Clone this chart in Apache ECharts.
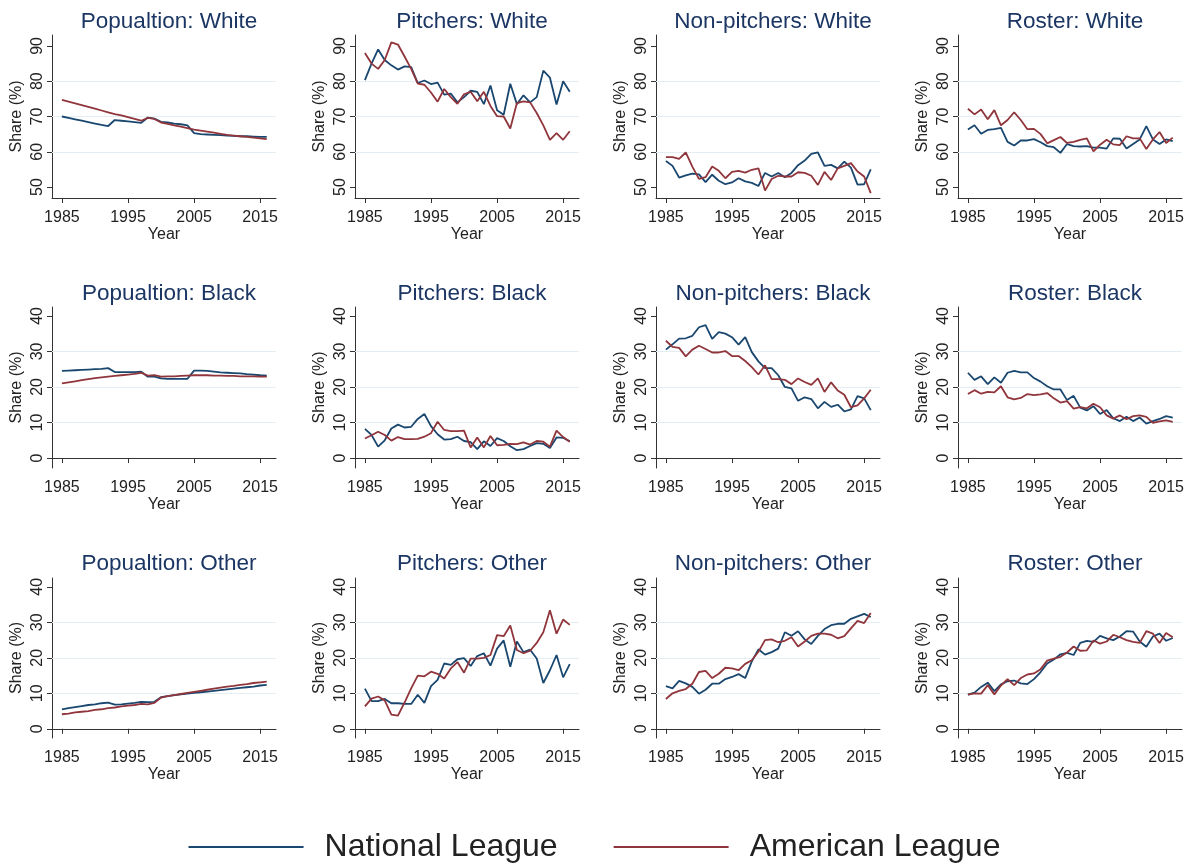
<!DOCTYPE html>
<html>
<head>
<meta charset="utf-8">
<script src="https://cdn.jsdelivr.net/npm/echarts@6/dist/echarts.min.js"></script>
<style>
  html, body { margin: 0; padding: 0; background: #fff; }
  #chart { width: 1189px; height: 864px; }
</style>
</head>
<body>
<div id="chart"></div>
<script>
// years 1985..2016
const years = [1985,1986,1987,1988,1989,1990,1991,1992,1993,1994,1995,1996,1997,1998,1999,2000,
               2001,2002,2003,2004,2005,2006,2007,2008,2009,2010,2011,2012,2013,2014,2015,2016];
const xTicks = [1985, 1995, 2005, 2015];
const whiteTicks = [50, 60, 70, 80, 90];
const otherTicks = [0, 10, 20, 30, 40];
const whiteGrid = [60, 70, 80];
const otherGrid = [10, 20, 30];

// White
const popWhiteNL = [70.0,69.6,69.2,68.8,68.4,68.0,67.6,67.3,69.0,68.8,68.6,68.4,68.2,69.7,69.4,68.5,68.3,68.0,67.8,67.5,65.3,65.0,64.9,64.8,64.7,64.6,64.5,64.4,64.4,64.3,64.2,64.2];
const popWhiteAL = [74.7,74.2,73.7,73.2,72.7,72.2,71.7,71.2,70.7,70.3,69.8,69.3,68.8,69.6,69.3,68.3,67.9,67.5,67.1,66.7,66.3,66.0,65.7,65.4,65.1,64.8,64.6,64.4,64.2,64.0,63.8,63.6];
const pitWhiteNL = [80.3,85.0,89.0,86.0,84.5,83.3,84.2,84.0,79.5,80.2,79.2,79.6,76.2,76.5,74.0,75.5,77.3,77.0,73.5,78.8,71.8,70.5,79.3,73.5,76.0,74.0,75.5,83.0,81.0,73.4,80.0,77.0];
const pitWhiteAL = [88.0,85.0,83.5,86.0,91.0,90.4,87.0,83.5,79.3,79.0,76.8,74.2,77.8,75.5,73.6,76.3,77.0,74.3,77.0,73.0,70.1,70.0,66.6,73.8,74.3,74.0,71.0,67.5,63.4,65.3,63.4,65.8];
const nonWhiteNL = [57.4,56.0,52.7,53.3,53.8,53.6,51.4,53.5,51.8,50.8,51.3,52.5,51.6,51.2,50.3,54.0,53.0,54.0,52.8,54.0,56.2,57.5,59.4,59.8,56.0,56.3,55.3,57.2,55.5,50.7,50.8,55.0];
const nonWhiteAL = [58.5,58.5,58.0,59.8,55.8,52.3,52.8,55.8,54.6,52.5,54.3,54.6,54.1,54.9,55.3,49.0,52.3,53.2,53.0,53.0,54.2,54.0,53.2,50.6,54.3,52.0,55.3,56.0,56.8,54.4,53.0,48.3];
const rosWhiteNL = [66.3,67.5,65.1,66.2,66.4,66.8,62.8,61.8,63.2,63.2,63.6,62.7,61.6,61.3,59.7,62.2,61.6,61.5,61.6,61.2,61.2,60.9,63.8,63.7,60.9,62.2,63.5,67.3,63.5,62.2,63.5,63.0];
const rosWhiteAL = [72.2,70.6,72.0,69.2,71.8,67.5,69.0,71.2,69.0,66.4,66.5,65.0,62.4,63.3,64.2,62.5,62.8,63.4,63.8,60.1,62.0,63.4,62.1,61.9,64.4,63.8,63.8,60.8,63.5,65.6,62.5,64.0];

// Black
const popBlackNL = [24.5,24.6,24.7,24.8,24.9,25.0,25.1,25.3,24.2,24.2,24.2,24.2,24.3,22.9,22.9,22.4,22.3,22.3,22.3,22.3,24.6,24.6,24.5,24.3,24.1,24.0,23.9,23.8,23.6,23.5,23.3,23.2];
const popBlackAL = [21.0,21.3,21.6,21.9,22.2,22.5,22.7,22.9,23.1,23.3,23.5,23.7,24.0,23.2,23.3,22.9,23.0,23.0,23.1,23.2,23.3,23.3,23.3,23.2,23.2,23.1,23.1,23.0,23.0,23.0,22.9,22.9];
const pitBlackNL = [8.2,6.5,3.2,5.0,8.3,9.4,8.6,8.8,11.0,12.4,9.0,6.7,5.2,5.3,6.0,4.8,4.5,2.5,4.7,3.4,5.6,4.8,3.3,2.2,2.5,3.4,4.2,4.0,2.8,5.8,5.7,4.7];
const pitBlackAL = [5.5,6.4,7.4,6.5,4.9,5.9,5.3,5.3,5.4,6.0,7.0,10.2,7.9,7.6,7.6,7.7,3.0,5.8,3.0,6.2,3.6,3.7,4.0,3.9,4.4,3.8,4.8,4.6,3.2,7.7,5.9,4.6];
const nonBlackNL = [30.5,32.0,33.6,33.7,34.4,36.8,37.4,33.5,35.4,35.0,34.0,31.9,34.0,29.8,27.2,25.3,25.3,23.3,20.0,19.6,16.1,17.1,16.6,14.0,15.8,14.4,15.0,13.1,13.7,17.4,16.8,13.5];
const nonBlackAL = [33.0,31.3,31.0,28.6,30.5,31.6,30.7,29.7,29.7,30.1,28.7,28.7,27.3,25.6,23.5,26.1,22.2,22.2,22.0,20.8,22.4,21.4,20.6,22.4,18.6,21.3,19.0,17.8,14.3,14.8,16.8,19.2];
const rosBlackNL = [24.0,22.0,23.0,20.8,22.7,21.2,24.0,24.5,24.1,24.1,22.5,21.5,20.2,19.3,19.3,16.3,17.5,14.2,13.4,14.6,12.4,13.5,11.2,10.4,11.6,10.4,11.4,9.7,10.4,11.0,11.8,11.4];
const rosBlackAL = [18.0,19.1,18.1,18.6,18.5,20.2,17.1,16.5,16.9,18.0,17.7,17.9,18.3,16.8,15.6,16.0,13.9,14.3,14.0,15.3,14.3,12.0,11.1,12.0,10.9,11.8,12.0,11.6,9.9,10.3,10.6,10.2];

// Other
const popOtherNL = [5.5,5.8,6.1,6.4,6.7,6.9,7.2,7.4,6.8,6.9,7.1,7.3,7.6,7.5,7.6,8.9,9.2,9.5,9.7,9.9,10.1,10.3,10.5,10.7,10.9,11.1,11.3,11.5,11.7,11.9,12.2,12.4];
const popOtherAL = [4.1,4.3,4.6,4.8,5.0,5.3,5.5,5.8,6.0,6.3,6.5,6.7,7.0,6.9,7.3,8.8,9.2,9.5,9.8,10.1,10.4,10.7,11.0,11.3,11.6,11.9,12.1,12.4,12.6,12.9,13.1,13.3];
const pitOtherNL = [11.3,7.8,7.8,8.4,7.2,7.2,7.0,7.0,9.6,7.3,12.0,13.8,18.4,18.0,19.6,19.9,17.7,20.5,21.3,17.8,22.6,24.9,17.5,24.6,21.6,22.3,19.8,12.9,16.5,20.8,14.5,18.2];
const pitOtherAL = [6.3,8.5,9.1,8.0,4.0,3.7,7.4,11.4,15.0,14.8,16.1,15.5,14.2,17.0,18.8,15.8,19.8,19.8,20.0,20.8,26.4,26.1,29.1,22.2,21.3,22.0,24.2,27.2,33.4,26.8,30.8,29.3];
const nonOtherNL = [12.0,11.4,13.5,12.8,11.8,9.9,11.0,12.7,12.7,14.0,14.6,15.4,14.3,19.0,22.4,20.9,21.6,22.6,27.2,26.2,27.5,25.2,23.9,26.2,28.1,29.2,29.6,29.6,31.0,31.7,32.4,31.5];
const nonOtherAL = [8.4,10.0,10.7,11.2,12.7,16.0,16.3,14.3,15.5,17.2,17.0,16.5,18.3,19.3,21.7,25.0,25.2,24.4,24.8,25.8,23.2,24.6,26.2,26.8,26.8,26.5,25.5,26.1,28.3,30.4,29.8,32.6];
const rosOtherNL = [9.6,10.2,11.8,13.0,10.6,12.5,13.4,13.6,12.8,12.6,14.0,16.0,18.4,19.5,21.0,21.4,20.8,24.2,24.8,24.5,26.2,25.5,25.0,26.0,27.5,27.4,24.6,23.1,26.0,26.8,24.8,25.6];
const rosOtherAL = [9.6,10.0,9.9,12.3,9.7,12.2,14.0,12.3,14.3,15.3,15.6,16.8,19.2,19.8,20.3,21.5,23.2,22.0,22.1,24.9,24.0,24.6,26.5,25.8,25.0,24.5,24.2,27.5,26.8,24.2,27.0,25.8];

const panels = [
  ['Popualtion: White', popWhiteNL, popWhiteAL],
  ['Pitchers: White', pitWhiteNL, pitWhiteAL],
  ['Non-pitchers: White', nonWhiteNL, nonWhiteAL],
  ['Roster: White', rosWhiteNL, rosWhiteAL],
  ['Popualtion: Black', popBlackNL, popBlackAL],
  ['Pitchers: Black', pitBlackNL, pitBlackAL],
  ['Non-pitchers: Black', nonBlackNL, nonBlackAL],
  ['Roster: Black', rosBlackNL, rosBlackAL],
  ['Popualtion: Other', popOtherNL, popOtherAL],
  ['Pitchers: Other', pitOtherNL, pitOtherAL],
  ['Non-pitchers: Other', nonOtherNL, nonOtherAL],
  ['Roster: Other', rosOtherNL, rosOtherAL]
];

const NL_COLOR = '#1a476f';
const AL_COLOR = '#90353b';
const TITLE_COLOR = '#1c3664';
const FONT = '"Liberation Sans", Arial, sans-serif';

const colLeft = [52, 355, 656, 958];
const colWidth = 224;
const rows = [
  { top: 35, height: 163, min: 46.9, max: 93.1, ticks: whiteTicks, grid: whiteGrid, titleY: 5 },
  { top: 307, height: 161, min: -2.8, max: 42.5, ticks: otherTicks, grid: otherGrid, titleY: 277 },
  { top: 578, height: 160, min: -2.6, max: 42.5, ticks: otherTicks, grid: otherGrid, titleY: 547 }
];

const titles = [], grids = [], xAxes = [], yAxes = [], series = [];

panels.forEach(function (p, i) {
  const r = rows[Math.floor(i / 4)];
  const c = i % 4;
  grids.push({ left: colLeft[c], top: r.top, width: colWidth, height: r.height });
  titles.push({
    text: p[0], left: colLeft[c] + colWidth / 2, top: r.titleY, textAlign: 'center',
    textStyle: { fontFamily: FONT, fontSize: 22.5, fontWeight: 'normal', color: TITLE_COLOR }
  });
  xAxes.push({
    type: 'value', gridIndex: i, min: 1983.5, max: 2017.4,
    name: 'Year', nameLocation: 'middle', nameGap: 29,
    nameTextStyle: { fontFamily: FONT, fontSize: 16, color: '#222' },
    axisLine: { show: true, lineStyle: { color: '#333', width: 1 } },
    axisTick: { show: true, length: 5, customValues: xTicks, lineStyle: { color: '#333' } },
    axisLabel: {
      customValues: xTicks, margin: 12, fontFamily: FONT, fontSize: 16, color: '#222',
      formatter: function (v) { return String(v); }
    },
    splitLine: { show: false }
  });
  yAxes.push({
    type: 'value', gridIndex: i, min: r.min, max: r.max,
    name: 'Share (%)', nameLocation: 'middle', nameGap: 27, nameRotate: 90,
    nameTextStyle: { fontFamily: FONT, fontSize: 16, color: '#222' },
    axisLine: { show: true, lineStyle: { color: '#333', width: 1 } },
    axisTick: { show: true, length: 5, customValues: r.ticks, lineStyle: { color: '#333' } },
    axisLabel: { customValues: r.ticks, rotate: 90, margin: 6, fontFamily: FONT, fontSize: 16, color: '#222' },
    splitLine: { show: false }
  });
  series.push({
    name: 'National League', type: 'line', xAxisIndex: i, yAxisIndex: i,
    data: years.map(function (y, k) { return [y, p[1][k]]; }),
    symbol: 'none', lineStyle: { color: NL_COLOR, width: 1.8 }, itemStyle: { color: NL_COLOR },
    z: 3,
    markLine: {
      silent: true, symbol: 'none', z: 1, label: { show: false },
      lineStyle: { color: '#e3edf2', width: 1, type: 'solid' },
      data: r.grid.map(function (v) { return { yAxis: v }; })
    }
  });
  series.push({
    name: 'American League', type: 'line', xAxisIndex: i, yAxisIndex: i,
    data: years.map(function (y, k) { return [y, p[2][k]]; }),
    symbol: 'none', lineStyle: { color: AL_COLOR, width: 1.8 }, itemStyle: { color: AL_COLOR },
    z: 3
  });
});

const chart = echarts.init(document.getElementById('chart'));
chart.setOption({
  animation: false,
  backgroundColor: '#fff',
  title: titles,
  grid: grids,
  xAxis: xAxes,
  yAxis: yAxes,
  legend: {
    data: ['National League', 'American League'],
    left: 'center', top: 826,
    icon: 'rect', itemWidth: 115, itemHeight: 2, itemGap: 56,
    textStyle: { fontFamily: FONT, fontSize: 32, color: '#222', padding: [0, 0, 0, 16] }
  },
  series: series
});
window.addEventListener('resize', chart.resize);
</script>
</body>
</html>
